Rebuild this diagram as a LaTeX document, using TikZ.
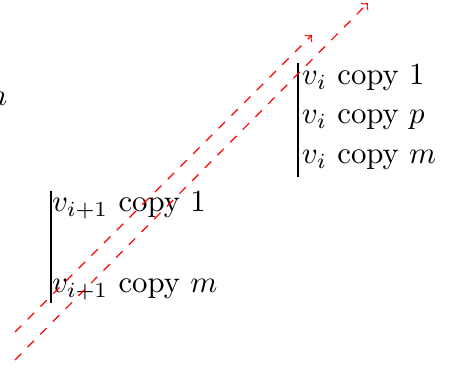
\documentclass[tikz,border=0pt]{standalone}
\begin{document}
\begin{tikzpicture}[x=0.3333pt,y=-0.3333pt,
  lbl/.style={anchor=base west,inner sep=0pt,outer sep=0pt,scale=1.025},
  bar/.style={draw=black,line width=0.35pt},
  redarrow/.style={draw=red,dashed,->,line width=0.4pt}]
\useasboundingbox (0,0) rectangle (452,381);
% clipped label at the left edge
\node[lbl] (nlab) at (-11,106) {$n$};
% right group
\node[lbl] (a1) at (302,85) {$v_i$ copy $1$};
\node[lbl] (a2) at (302,124) {$v_i$ copy $p$};
\node[lbl] (a3) at (302,164) {$v_i$ copy $m$};
\coordinate (at) at (298,63);
\coordinate (ab) at (298,177);
\draw[bar] (at) -- (ab);
% left group
\node[lbl] (b1) at (52,212) {$v_{i+1}$ copy $1$};
\node[lbl] (b2) at (52,293) {$v_{i+1}$ copy $m$};
\coordinate (bt) at (51,191);
\coordinate (bb) at (51,303);
\draw[bar] (bt) -- (bb);
% dashed arrows
\coordinate (s1) at (15,332);
\coordinate (e1) at (312,35);
\coordinate (s2) at (15,360);
\coordinate (e2) at (368,3);
\draw[redarrow] (s1) -- (e1);
\draw[redarrow] (s2) -- (e2);
\end{tikzpicture}
\end{document}
